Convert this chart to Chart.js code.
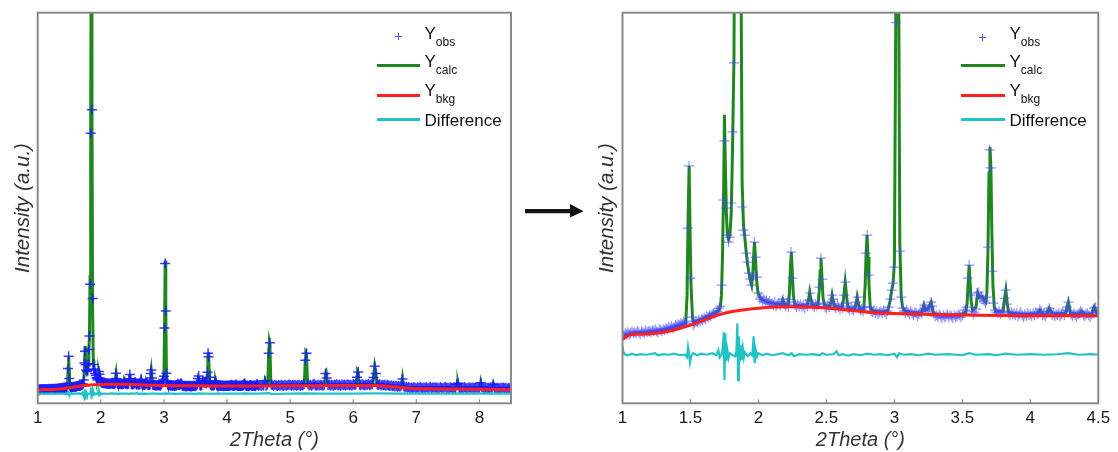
<!DOCTYPE html>
<html><head><meta charset="utf-8">
<script src="https://cdn.jsdelivr.net/npm/chart.js@4.4.1/dist/chart.umd.min.js"></script>
<style>
html,body{margin:0;padding:0;background:#fff;}
body{width:1118px;height:452px;position:relative;overflow:hidden;font-family:"Liberation Sans",Arial,sans-serif;}
.box{position:absolute;top:0;height:452px;}
#c1box{left:0;width:540px;}
#c2box{left:585px;width:533px;}
.lg{position:absolute;font-size:17px;line-height:17px;color:#111;white-space:nowrap;}
.lg .s{font-size:12px;position:relative;top:7.5px;}
.ln{position:absolute;height:3px;}
.cr{position:absolute;background:#5050ff;}
</style></head><body>
<div class="box" id="c1box"><canvas id="c1"></canvas></div>
<div class="box" id="c2box"><canvas id="c2"></canvas></div>

<!-- legend left -->
<div class="cr" style="left:394.8px;top:36.1px;width:7px;height:1.3px"></div>
<div class="cr" style="left:397.7px;top:33.2px;width:1.3px;height:7px"></div>
<div class="lg" style="left:424.5px;top:24.6px">Y<span class="s">obs</span></div>
<div class="ln" style="left:376.7px;top:64.2px;width:43.3px;background:#1e871e"></div>
<div class="lg" style="left:424.5px;top:52.6px">Y<span class="s">calc</span></div>
<div class="ln" style="left:376.7px;top:93.5px;width:43.3px;background:#ff1f1f"></div>
<div class="lg" style="left:424.5px;top:81.6px">Y<span class="s">bkg</span></div>
<div class="ln" style="left:376.7px;top:117.5px;width:43.3px;background:#22c3c6"></div>
<div class="lg" style="left:424.5px;top:111.6px">Difference</div>

<!-- legend right -->
<div class="cr" style="left:979.2px;top:36.7px;width:7px;height:1.3px"></div>
<div class="cr" style="left:982.1px;top:33.8px;width:1.3px;height:7px"></div>
<div class="lg" style="left:1009.5px;top:24.6px">Y<span class="s">obs</span></div>
<div class="ln" style="left:961px;top:64.2px;width:44px;background:#1e871e"></div>
<div class="lg" style="left:1009.5px;top:52.6px">Y<span class="s">calc</span></div>
<div class="ln" style="left:961px;top:93.5px;width:44px;background:#ff1f1f"></div>
<div class="lg" style="left:1009.5px;top:81.6px">Y<span class="s">bkg</span></div>
<div class="ln" style="left:961px;top:117.5px;width:44px;background:#22c3c6"></div>
<div class="lg" style="left:1009.5px;top:111.6px">Difference</div>

<!-- arrow -->
<svg style="position:absolute;left:520px;top:200px" width="70" height="24">
  <line x1="5" y1="11.2" x2="52" y2="11.2" stroke="#111" stroke-width="4.3"/>
  <polygon points="50,4 63.5,11.2 50,17.5" fill="#111"/>
</svg>

<script>
// ---------- data (intensity in arbitrary units) ----------
const xTicksLeft = [1, 2, 3, 4, 5, 6, 7, 8];
const xTicksRight = [1, 1.5, 2, 2.5, 3, 3.5, 4, 4.5];

// observed intensities, measured grid 1.00..4.50 step 0.01
const obsFineStart = 1.00, obsFineStep = 0.01;
const obsFine = [
 65,68,70,69,71,69,70,72,70,71,
 70,72,71,69,72,71,70,73,71,72,
 72,71,73,72,74,72,71,74,73,72,
 74,73,75,74,76,75,77,75,76,78,
 77,79,78,80,79,81,80,82,175,237,
 125,86,78,80,82,81,83,82,84,83,
 85,84,87,86,88,87,89,90,89,91,
 92,95,97,118,203,262,195,168,161,166,
 200,271,340,600,1362,2550,1480,529,196,173,
 168,150,141,130,124,118,128,161,146,126,
 110,104,106,102,104,101,103,100,102,99,
 100,98,101,97,99,100,98,101,104,99,
 97,99,96,104,151,125,101,98,96,99,
 97,99,96,98,95,99,97,103,110,100,
 98,96,99,97,100,116,145,124,99,96,
 95,98,96,101,108,104,97,95,99,96,
 94,97,95,108,121,100,95,93,96,94,
 93,96,101,106,95,93,94,92,96,150,
 168,128,96,92,91,93,90,92,89,91,
 92,90,93,91,89,92,96,104,113,120,
 136,380,705,465,152,106,95,92,90,93,
 91,89,92,90,88,91,90,87,89,92,
 90,93,98,95,92,94,96,101,97,90,
 87,88,86,89,87,85,88,86,87,89,
 86,88,87,85,88,86,87,89,88,86,
 88,90,93,96,125,138,108,92,89,91,
 94,110,111,105,107,104,102,100,106,156,
 253,235,132,100,93,91,90,92,89,91,
 92,105,113,99,90,88,91,89,90,88,
 90,87,89,91,88,86,89,87,90,88,
 89,87,90,88,91,89,90,94,92,88,
 89,87,90,92,95,91,88,90,87,89,
 88,90,87,89,91,88,93,96,101,92,
 89,87,90,88,86,89,90,92,91,88,
 87,89,90,88,86,89,91,95,96,91,
 89
];
// observed intensities, grid 4.52..8.50 step 0.02
const obsCoarseStart = 4.52, obsCoarseStep = 0.02;
const obsCoarse = [
 92,88,93,90,112,89,94,252,305,95,
 91,88,93,90,87,92,89,94,90,88,
 93,89,91,95,92,88,94,90,92,89,
 91,94,88,92,90,96,217,252,98,90,
 93,89,95,99,91,88,93,90,94,91,
 89,93,150,127,92,95,90,93,89,94,
 92,96,90,93,89,95,91,94,90,93,
 95,91,94,90,96,92,95,132,158,93,
 91,96,93,90,95,92,97,91,94,96,
 130,187,150,95,92,96,90,94,91,93,
 89,93,90,87,91,86,89,85,88,84,
 87,83,90,123,86,80,84,79,82,77,
 80,76,82,78,75,81,77,83,79,76,
 80,77,82,75,79,83,76,80,78,81,
 77,79,75,82,78,76,80,83,77,79,
 76,81,78,75,80,77,96,101,79,76,
 80,77,82,78,75,79,81,76,80,78,
 77,81,76,80,79,104,82,78,75,80,
 77,79,76,81,78,95,80,76,79,77,
 75,79,77,80,76,78,74,79,76,75
];

const calcX = [1.00,1.02,1.05,1.10,1.15,1.20,1.25,1.30,1.35,1.40,1.45,
 1.465,1.475,1.482,1.490,1.497,1.504,1.515,1.525,1.55,1.60,1.65,1.70,
 1.72,1.728,1.736,1.744,1.750,1.757,1.764,1.772,1.78,1.79,
 1.80,1.81,1.82,1.83,1.84,1.85,1.86,1.87,1.88,1.89,1.90,1.91,1.92,1.93,1.94,1.95,
 1.958,1.965,1.971,1.978,1.986,1.995,2.00,2.02,2.05,2.10,2.15,2.17,2.18,2.19,
 2.218,2.228,2.235,2.242,2.249,2.257,2.267,2.30,2.357,2.368,2.377,2.386,2.397,
 2.437,2.447,2.454,2.460,2.467,2.475,2.485,2.50,2.525,2.535,2.542,2.55,2.56,
 2.60,2.615,2.625,2.632,2.638,2.645,2.653,2.663,2.70,2.708,2.718,2.726,2.734,2.745,
 2.775,2.785,2.792,2.799,2.806,2.813,2.823,2.85,2.90,2.95,2.97,2.98,2.99,
 3.00,3.01,3.02,3.03,3.04,3.05,3.06,3.08,3.12,3.20,3.216,3.23,3.245,3.27,3.285,3.30,3.40,3.50,
 3.525,3.535,3.543,3.550,3.557,3.565,3.575,3.60,3.613,3.625,3.645,3.66,3.672,
 3.68,3.688,3.696,3.703,3.710,3.717,3.725,3.735,3.745,3.80,3.81,3.82,3.83,3.84,3.90,
 4.00,4.05,4.07,4.09,4.12,4.14,4.16,4.26,4.28,4.295,4.36,4.378,4.395,4.45,4.47,4.49,4.50,
 4.55,4.585,4.60,4.615,4.645,4.66,4.67,4.68,4.695,4.75,4.80,4.90,5.00,5.10,5.20,5.225,5.24,5.25,5.26,5.275,5.30,5.35,5.38,5.41,5.50,5.55,5.56,5.57,5.58,5.595,5.65,5.80,5.90,6.00,6.05,6.06,6.07,6.08,6.095,6.20,6.31,6.32,6.34,6.36,6.375,6.45,6.55,6.65,6.72,6.765,6.78,6.795,6.85,6.95,7.05,7.30,7.60,7.635,7.65,7.66,7.675,7.80,8.00,8.005,8.02,8.035,8.20,8.21,8.22,8.235,8.50];
const calcY = [64,68,69,70,70.5,71,72,73.5,75,77,79,
 80,108,180,237,172,118,85,81,82,85,88,92,
 96,108,150,215,288,235,190,168,164,168,
 190,260,345,640,1450,2600,1500,480,220,178,165,151,139,130,123,118,
 128,148,161,146,124,112,109,104,102,100,99,99,103,99,
 98,110,135,151,130,108,98,97.5,97.5,103,111,104,98,
 97,112,132,145,126,106,98,97,97,102,108,102,97,
 96,95.5,103,113,121,112,101,95,94,94,99,106,100,94,
 94,118,150,168,146,118,95,92,91,92,103,113,119,
 140,380,720,470,160,107,96,92,91,90,98,93,94,101,91,89,88,89,
 91,100,122,138,120,102,93,96,110,106,107,103,101,
 110,150,230,256,236,170,118,96,92,92,104,113,100,91,89,
 89,89,93,89,89,95,89,90,101,90,89,92,89,89,96,90,89,
 90,91,114,92,93,250,308,290,100,92,92,93,94,93,93,95,217,256,250,100,93,94,100,94,94,94,150,157,125,95,94,95,95,95,95,135,162,156,96,96,97,130,187,150,97,95,93,89,86,88,125,86,81,78,79,78,77,79,100,103,80,77,77,78,105,78,76,80,95,77,74];

const bkgX = [1.00,1.05,1.10,1.20,1.30,1.40,1.50,1.60,1.70,1.80,1.90,2.00,2.20,2.40,2.60,2.80,3.00,3.20,3.40,3.60,4.00,4.50,5.00,5.50,6.00,6.30,6.50,6.70,6.90,7.20,7.60,8.00,8.50];
const bkgY = [64,68,69,69.5,71,74,78,83,88,91.5,93.5,95,96.3,96,94,91,89.7,88.8,88.2,88,87.5,87.5,88,89,90,90,87,82,76,73,72,71,69];

const diffX = [1.00,1.005,1.015,1.04,1.07,1.10,1.13,1.17,1.20,1.24,1.26,1.30,1.34,1.38,1.42,1.46,1.475,1.482,1.49,1.497,1.505,1.52,1.55,1.58,1.62,1.66,1.69,1.705,1.715,1.73,1.738,1.745,1.75,1.756,1.762,1.77,1.78,1.79,1.81,1.83,1.838,1.845,1.85,1.856,1.863,1.87,1.877,1.885,1.893,1.90,1.92,1.94,1.955,1.965,1.972,1.98,1.99,2.00,2.03,2.06,2.10,2.14,2.18,2.22,2.245,2.26,2.30,2.35,2.40,2.45,2.47,2.50,2.55,2.575,2.59,2.62,2.66,2.70,2.75,2.80,2.85,2.90,2.95,3.00,3.02,3.035,3.07,3.12,3.18,3.25,3.30,3.40,3.50,3.55,3.60,3.70,3.75,3.82,3.90,4.00,4.10,4.20,4.28,4.35,4.45,4.50,4.67,4.70,5.00,5.25,5.50,6.00,6.34,6.80,7.50,8.50];
const diffY = [57,52,49,48,49.5,48,49,48.5,49,50,48,49,48.5,49.5,48,48.5,46,56,49,41,47,50,48,49.5,48.5,50,48,53,46,49,56,71,23,70,42,54,45,50,48,47,52,80,23,67,42,58,43,55,46,51,47,50,48,67,40,53,47,50,48,49.5,48,49,50,48,50,47,49,48.5,49,48,50,48.5,49,52,48,49,47.5,49,48,49.5,48.5,49,48,49.5,46,50,48.5,49,48,49.5,48.5,49,48,50,48.5,49,48,49.5,48.5,49,48.5,49,50,48.5,49,48.5,51,47,49,50,48.5,49,50,49,48.5,49];

// ---------- build point lists ----------
const obsPts = obsFine.map((y, i) => ({x: +(obsFineStart + i * obsFineStep).toFixed(2), y}))
  .concat(obsCoarse.map((y, i) => ({x: +(obsCoarseStart + i * obsCoarseStep).toFixed(2), y})));
const zip = (xs, ys) => xs.map((x, i) => ({x, y: ys[i]}));
const calcPts = zip(calcX, calcY);
const bkgPts = zip(bkgX, bkgY);
const diffPts = zip(diffX, diffY);

const FONT = '"Liberation Sans", Arial, sans-serif';

const framePlugin = {
  id: 'frame',
  afterDraw(chart) {
    const {ctx, chartArea: a} = chart;
    const xs = chart.scales.x;
    ctx.save();
    ctx.strokeStyle = '#8a8a8a';
    ctx.lineWidth = 1.2;
    xs.ticks.forEach(t => {
      const p = xs.getPixelForValue(t.value);
      if (p <= a.left + 1 || p >= a.right - 1) return;
      ctx.beginPath(); ctx.moveTo(p, a.bottom); ctx.lineTo(p, a.bottom - 4); ctx.stroke();
    });
    ctx.lineWidth = 2;
    ctx.strokeRect(a.left, a.top, a.right - a.left, a.bottom - a.top);
    ctx.restore();
  }
};

function makeChart(id, cfg) {
  return new Chart(document.getElementById(id), {
    type: 'scatter',
    data: {
      datasets: [
        {label: 'Ybkg', data: bkgPts, showLine: true, borderColor: '#ff1f1f', borderWidth: 3, pointRadius: 0, cubicInterpolationMode: 'monotone', order: 0},
        {label: 'Difference', data: diffPts, showLine: true, borderColor: '#22c3c6', borderWidth: 2.2, pointRadius: 0, tension: 0, order: 0},
        {label: 'Yobs', data: obsPts, showLine: false, pointStyle: 'cross', pointRadius: cfg.r, pointBorderWidth: cfg.pw, borderColor: cfg.obsColor, backgroundColor: cfg.obsColor, order: 1},
        {label: 'Ycalc', data: calcPts, showLine: true, borderColor: '#1e871e', borderWidth: 3, pointRadius: 0, tension: 0, order: 2}
      ]
    },
    options: {
      responsive: true, maintainAspectRatio: false, animation: false, events: [],
      layout: {padding: {left: 0, top: 12.7, right: cfg.padRight, bottom: 0}},
      plugins: {legend: {display: false}, tooltip: {enabled: false}},
      scales: {
        x: {
          type: 'linear', min: cfg.xmin, max: cfg.xmax,
          afterBuildTicks: s => { s.ticks = cfg.ticks.map(v => ({value: v})); },
          grid: {display: false, drawTicks: false}, border: {display: false},
          ticks: {color: '#1a1a1a', font: {family: FONT, size: 17}, padding: 5, maxRotation: 0, autoSkip: false, callback: v => String(v)},
          title: {display: true, text: '2Theta (°)', color: '#333', font: {family: FONT, size: 20, style: 'italic'}, padding: {top: 0, bottom: 0}},
          afterFit: s => { s.height = 48.7; }
        },
        y: {
          min: 0, max: cfg.ymax,
          ticks: {display: false}, grid: {display: false, drawTicks: false}, border: {display: false},
          title: {display: true, text: 'Intensity (a.u.)', color: '#333', font: {family: FONT, size: 20.5, style: 'italic'}, padding: {top: cfg.titlePad, bottom: 0}},
          afterFit: s => { s.width = cfg.yw; }
        }
      }
    },
    plugins: [framePlugin]
  });
}

makeChart('c1', {xmin: 1, xmax: 8.5, ticks: xTicksLeft, ymax: 1970, r: 5, pw: 1.5, obsColor: 'rgba(25,25,255,0.85)', padRight: 29, yw: 37.7, titlePad: 10.5});
makeChart('c2', {xmin: 1, xmax: 4.5, ticks: xTicksRight, ymax: 390, r: 5, pw: 1.2, obsColor: 'rgba(70,70,255,0.6)', padRight: 19.7, yw: 37.5, titlePad: 9.7});
</script>
</body></html>
